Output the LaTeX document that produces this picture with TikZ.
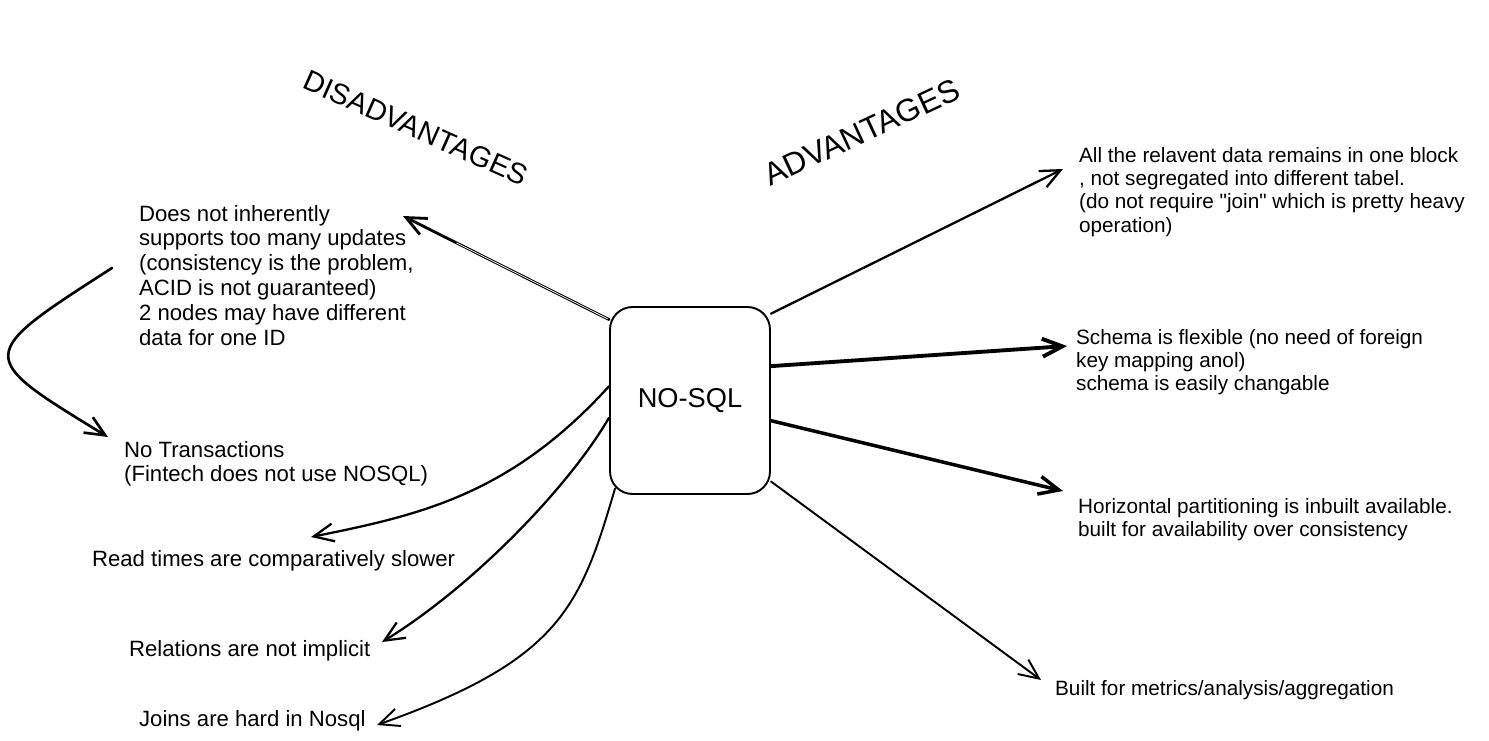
\documentclass[tikz,border=0pt]{standalone}
\usepackage{fontspec}
\setmainfont{Liberation Sans}[Ligatures=TeXOff]
\usetikzlibrary{arrows.meta}
\begin{document}
\begin{tikzpicture}[x=0.02cm,y=-0.02cm,>={Straight Barb[length=4mm,width=3.6mm]},line width=1.3pt,line cap=round,line join=round,
	txt/.style={font=\fontsize{12.6}{14.1}\selectfont,align=left,anchor=north west,inner sep=0pt},
	rtxt/.style={txt,font=\fontsize{11.8}{13.3}\selectfont},
	title/.style={font=\fontsize{#1}{#1}\selectfont,inner sep=0pt}]
	\useasboundingbox (0,0) rectangle (1489,741);
	\node[draw,line width=1.1pt,rounded corners=0.45cm,minimum width=3.2cm,minimum height=3.74cm,font=\fontsize{15.5}{15.5}\selectfont] (nosql) at (690,400.5) {NO-SQL};
	\node[title=16.5,rotate=-24] (dis) at (416,128) {DISADVANTAGES};
	\node[title=18,rotate=25] (adv) at (862,132) {ADVANTAGES};
	\node[txt] (upd) at (138,204) {Does not inherently\\supports too many updates\\(consistency is the problem,\\ACID is not guaranteed)\\2 nodes may have different\\data for one ID};
	\node[txt] (trans) at (123,440) {No Transactions\\(Fintech does not use NOSQL)};
	\node[txt] (read) at (91,549) {Read times are comparatively slower};
	\node[txt] (rel) at (128,639) {Relations are not implicit};
	\node[txt] (joins) at (138,709) {Joins are hard in Nosql};
	\node[rtxt] (block) at (1078,146) {All the relavent data remains in one block\\, not segregated into different tabel.\\(do not require "join" which is pretty heavy\\operation)};
	\node[rtxt] (schema) at (1075,328) {Schema is flexible (no need of foreign\\key mapping anol)\\schema is easily changable};
	\node[rtxt] (horiz) at (1077,497) {Horizontal partitioning is inbuilt available.\\built for availability over consistency};
	\node[rtxt] (metric) at (1054,679) {Built for metrics/analysis/aggregation};
	\coordinate (updtip) at (403,216);
	\coordinate (loopstart) at (112,268);
	\coordinate (transtip) at (108,437);
	\coordinate (readtip) at (311,537);
	\coordinate (reltip) at (382,642);
	\coordinate (joinstip) at (377,725);
	\coordinate (blocktip) at (1063,169);
	\coordinate (schematip) at (1067,346);
	\coordinate (horiztip) at (1063,491);
	\coordinate (metrictip) at (1041,680);
	\draw[->,line width=1.6pt] (nosql.135) -- (updtip);
	\draw[white,line width=0.4pt,shorten <=1pt,shorten >=1.2cm] (nosql.135) -- (updtip);
	\draw[->,line width=1.5pt] (loopstart) .. controls (-25,356) .. (transtip);
	\draw[->] (nosql.170) .. controls (510,495) and (420,515) .. (readtip);
	\draw[->] (nosql.192) .. controls (568,488) and (472,587) .. (reltip);
	\draw[->,line width=1.1pt] ([shift={(6,-2)}]nosql.228) .. controls (580,608) and (560,660) .. (joinstip);
	\draw[->] (nosql.47) -- (blocktip);
	\draw[->,line width=2.2pt] (nosql.23) -- (schematip);
	\draw[->,line width=2pt] (nosql.-14) -- (horiztip);
	\draw[->,line width=1.1pt] (nosql.-45) -- (metrictip);
\end{tikzpicture}
\end{document}
